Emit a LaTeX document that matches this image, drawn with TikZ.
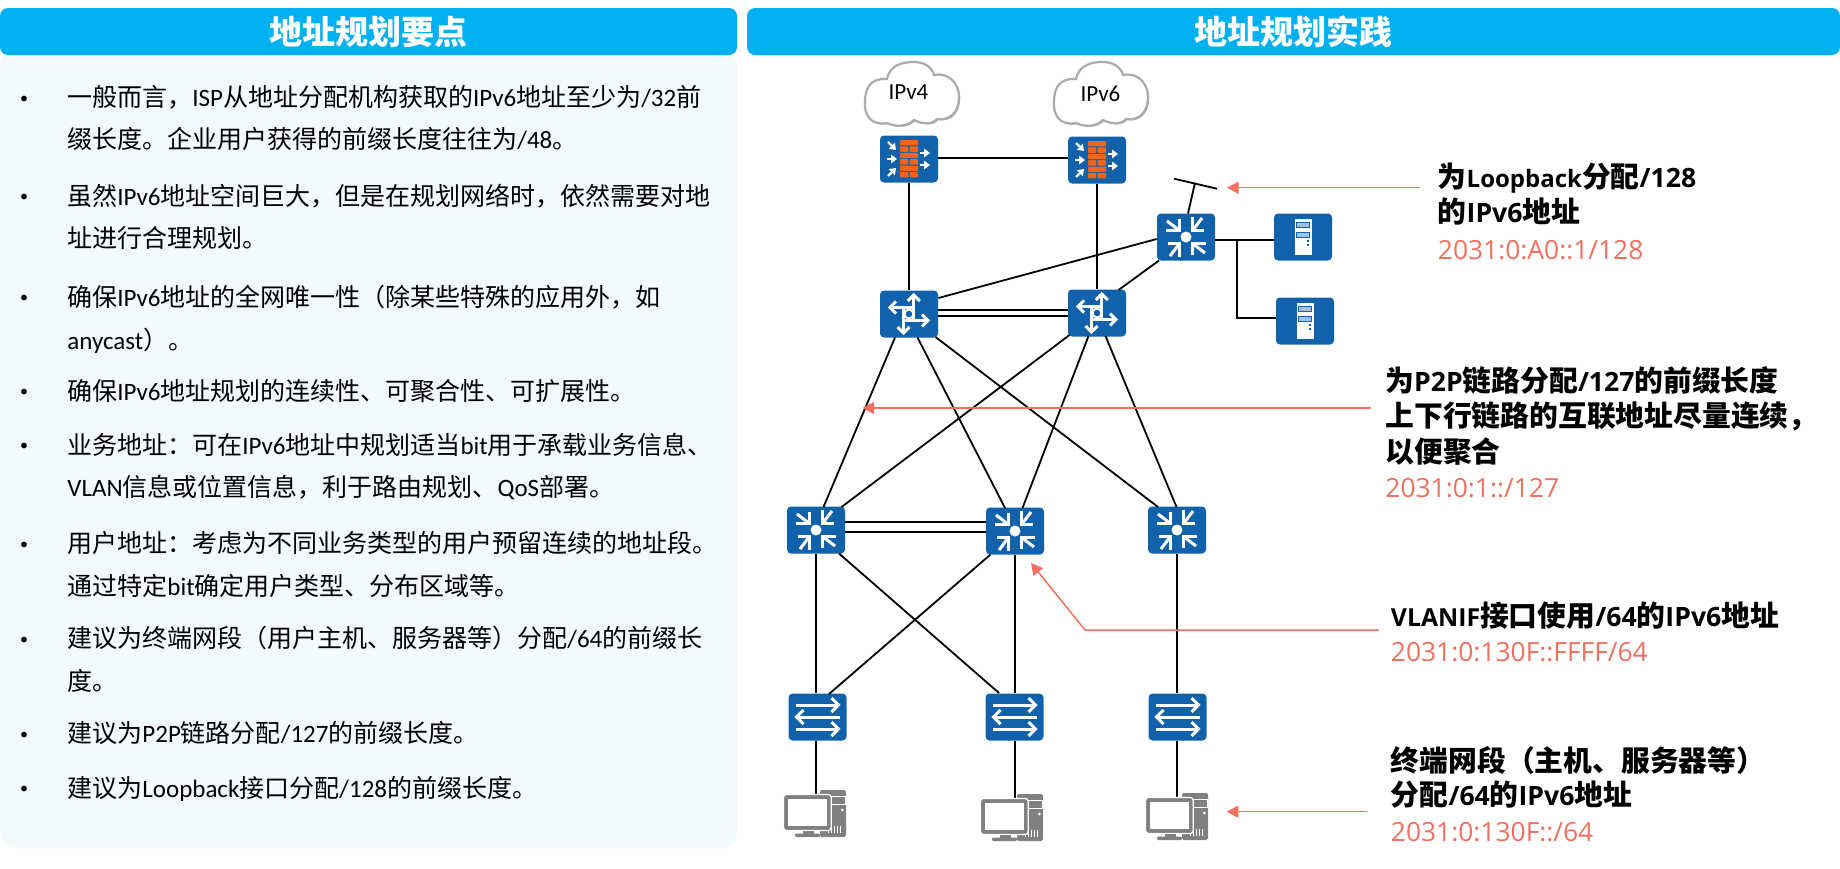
\documentclass[tikz,border=0pt]{standalone}
\usepackage{fontspec}
\usetikzlibrary{arrows.meta,calc}
\setmainfont{Noto Sans CJK SC}
\newfontfamily\lat{Carlito}
\newfontfamily\latw{Open Sans}
\newcommand{\La}[1]{{\lat #1}}
\newcommand{\Lb}[2][13.3]{{\latw\fontsize{#1}{16}\selectfont #2}}
\definecolor{headblue}{HTML}{00B0F0}
\definecolor{panelblue}{HTML}{F2FAFE}
\definecolor{devblue}{HTML}{1262AB}
\definecolor{brick}{HTML}{F0651C}
\definecolor{noteRed}{HTML}{F0705F}
\definecolor{pcgray}{HTML}{808080}
\definecolor{cloudgray}{HTML}{ABABAB}
\definecolor{slotblue}{HTML}{9CC3E6}
\tikzset{
  x=0.5pt,y=-0.5pt,
  header/.style={fill=headblue,draw=none,rounded corners=4pt,inner sep=0},
  headtxt/.style={text=white,font=\fontsize{16.5}{18}\selectfont\bfseries,inner sep=0},
  body/.style={anchor=west,inner sep=0,text height=10pt,text depth=3pt,font=\fontsize{12.5}{14}\selectfont},
  bul/.style={inner sep=0,font=\fontsize{8}{10}\selectfont\lat},
  note/.style={anchor=west,inner sep=0,text height=11pt,text depth=3pt,font=\fontsize{14.4}{16}\selectfont\bfseries},
  addr/.style={anchor=west,inner sep=0,text height=11pt,text depth=3pt,text=noteRed,font=\fontsize{13.2}{16}\selectfont\latw},
  dev/.style={fill=devblue,draw=none,rounded corners=2pt,minimum width=29pt,minimum height=23.5pt,inner sep=0},
  pcnode/.style={minimum width=31pt,minimum height=23.5pt,inner sep=0},
  cloudnode/.style={minimum width=47pt,minimum height=32pt,inner sep=0,font=\fontsize{11.5}{13}\selectfont\lat},
  link/.style={line width=0.9pt,draw=black},
  callout/.style={line width=0.75pt,draw=noteRed,-{Triangle[length=5.8pt,width=6pt,fill=noteRed]}},
  glyph/.style={draw=white,line width=1.5pt,line cap=butt,line join=miter},
}
\newcommand{\aggicon}[1]{%
  \begin{scope}[shift={(#1.center)}]
    \fill[white] (0,0) circle (5.5);
    \foreach \r in {0,90,180,270}{
      \begin{scope}[rotate=\r]
        \draw[glyph] (-6.5,-18) -- (-6.5,-6.5) -- (-20,-6.5);
        \draw[glyph] (-19,-16) -- (-6.5,-6.5);
      \end{scope}}
  \end{scope}}
\newcommand{\routericon}[1]{%
  \begin{scope}[shift={(#1.center)}]
    \draw[glyph] (-19,-6.5) -- (5,-6.5);
    \draw[glyph] (-13,-12.5) -- (-19,-6.5) -- (-13,-0.5);
    \draw[glyph] (-5.5,6.5) -- (19,6.5);
    \draw[glyph] (13,0.5) -- (19,6.5) -- (13,12.5);
    \draw[glyph] (4.8,-19) -- (4.8,7);
    \draw[glyph] (-1.2,-13) -- (4.8,-19) -- (10.8,-13);
    \draw[glyph] (-5.5,19) -- (-5.5,-7);
    \draw[glyph] (-11.5,13) -- (-5.5,19) -- (0.5,13);
    \draw[draw=white,fill=devblue,line width=1pt] (0,0) circle (4.5);
  \end{scope}}
\newcommand{\switchicon}[1]{%
  \begin{scope}[shift={(#1.center)}]
    \draw[glyph] (-22,-12) -- (21,-12);
    \draw[glyph] (14,-19) -- (21,-12) -- (14,-5);
    \draw[glyph] (22,0) -- (-21,0);
    \draw[glyph] (-14,-7) -- (-21,0) -- (-14,7);
    \draw[glyph] (-22,12) -- (21,12);
    \draw[glyph] (14,5) -- (21,12) -- (14,19);
  \end{scope}}
\newcommand{\fwicon}[1]{%
  \begin{scope}[shift={(#1.center)}]
    \foreach \yy in {-19,-6.2,6.6}{
      \fill[brick,rounded corners=0.4pt] (-9,\yy) rectangle (9,\yy+5.4);}
    \foreach \yy in {-12.6,0.2,13}{
      \fill[brick,rounded corners=0.4pt] (-9,\yy) rectangle (-0.7,\yy+5.4);
      \fill[brick,rounded corners=0.4pt] (0.7,\yy) rectangle (9,\yy+5.4);}
    \tikzset{fwa/.style={draw=white,line width=1.1pt,-{Triangle[length=3pt,width=4.2pt,fill=white]}}}
    \draw[fwa] (-21,-17) -- (-13,-9);
    \draw[fwa] (-22,0) -- (-12,0);
    \draw[fwa] (-21,17) -- (-13,9);
    \draw[fwa] (11,-6) -- (21,-6);
    \draw[fwa] (11,6) -- (21,6);
  \end{scope}}
\newcommand{\srvicon}[1]{%
  \begin{scope}[shift={(#1.center)}]
    \fill[white] (-8.5,-18) rectangle (8.5,18);
    \draw[draw=devblue,fill=slotblue,line width=0.5pt] (-6.5,-14.5) rectangle (6.5,-9.5);
    \draw[draw=devblue,fill=slotblue,line width=0.5pt] (-6.5,-5) rectangle (6.5,0);
    \fill[devblue] (3.5,3) rectangle (6,5);
    \fill[devblue] (3.5,6.5) rectangle (6,8.5);
  \end{scope}}
\newcommand{\pcicon}[1]{%
  \begin{scope}[shift={(#1.north west)}]
    \fill[pcgray,rounded corners=0.8pt] (36,0) rectangle (62,47);
    \draw[white,line width=0.5pt,fill=pcgray] (47.5,6.5) rectangle (61,14);
    \fill[white] (58.3,20) circle (1.5);
    \foreach \xx in {44,47,50,53,56}{\fill[white] (\xx,36) rectangle (\xx+1.1,43);}
    \draw[white,line width=0.6pt,fill=pcgray,rounded corners=1.5pt] (-0.5,4.5) rectangle (47.2,40.5);
    \fill[white] (4.3,8.5) rectangle (42.7,36);
    \fill[pcgray] (19,40.5) rectangle (30,43.5);
    \fill[pcgray,rounded corners=0.6pt] (11,43.5) rectangle (36,47);
  \end{scope}}
\newcommand{\cloudpath}{(-25,29) .. controls (-42,32) and (-48,20) .. (-47,8)
  .. controls (-47,-8) and (-40,-16) .. (-25,-15)
  .. controls (-22,-30) and (-8,-32) .. (2,-32)
  .. controls (12,-32) and (20,-27) .. (22,-19)
  .. controls (35,-22) and (47,-12) .. (47,3)
  .. controls (47,18) and (38,27) .. (25,25)
  .. controls (20,31) and (10,30) .. (2,26)
  .. controls (-5,33) and (-17,33) .. (-25,29) -- cycle}
\newcommand{\cloudicon}[1]{%
  \begin{scope}[shift={(#1.center)}]
    \fill[cloudgray,shift={(1.2,1.2)}] \cloudpath;
    \draw[cloudgray,fill=white,line width=1.1pt] \cloudpath;
  \end{scope}}
\begin{document}
\begin{tikzpicture}
\useasboundingbox (0,0) rectangle (1840,868);
% panels
\fill[panelblue,rounded corners=8pt] (0,50) rectangle (737,848);
\node[header,minimum width=368.5pt,minimum height=23.5pt] (hl) at (368.5,31.5) {};
\node[header,minimum width=546.5pt,minimum height=23.5pt] (hr) at (1293.5,31.5) {};
\node[headtxt] (tl) at (368,32) {地址规划要点};
\node[headtxt] (tr) at (1293,32) {地址规划实践};
% left text
\foreach \yy/\nm in {99.5/a,198/b,299/c,393/d,447/e,545.5/f,640.5/g,735.5/h,790/i}{
  \node[bul] (bul\nm) at (24,\yy) {•};}
\node[body] (t1) at (67,99.5) {一般而言，\La{ISP}从地址分配机构获取的\La{IPv6}地址至少为\La{/32}前};
\node[body] (t2) at (67,141) {缀长度。企业用户获得的前缀长度往往为\La{/48}。};
\node[body] (t3) at (67,198) {虽然\La{IPv6}地址空间巨大，但是在规划网络时，依然需要对地};
\node[body] (t4) at (67,240.5) {址进行合理规划。};
\node[body] (t5) at (67,299) {确保\La{IPv6}地址的全网唯一性（除某些特殊的应用外，如};
\node[body] (t6) at (67,342.5) {\La{anycast}）。};
\node[body] (t7) at (67,393) {确保\La{IPv6}地址规划的连续性、可聚合性、可扩展性。};
\node[body] (t8) at (67,447) {业务地址：可在\La{IPv6}地址中规划适当\La{bit}用于承载业务信息、};
\node[body] (t9) at (67,489) {\La{VLAN}信息或位置信息，利于路由规划、\La{QoS}部署。};
\node[body] (t10) at (67,545.5) {用户地址：考虑为不同业务类型的用户预留连续的地址段。};
\node[body] (t11) at (67,588) {通过特定\La{bit}确定用户类型、分布区域等。};
\node[body] (t12) at (67,640.5) {建议为终端网段（用户主机、服务器等）分配\La{/64}的前缀长};
\node[body] (t13) at (67,683) {度。};
\node[body] (t14) at (67,735.5) {建议为\La{P2P}链路分配\La{/127}的前缀长度。};
\node[body] (t15) at (67,790) {建议为\La{Loopback}接口分配\La{/128}的前缀长度。};
% devices (positions)
\node[cloudnode] (c4) at (912,94) {};
\node[cloudnode] (c6) at (1101,94) {};
\node[dev] (fw1) at (909,159) {};
\node[dev] (fw2) at (1097,160) {};
\node[dev] (core) at (1186,237) {};
\node[dev] (s1) at (1303,237) {};
\node[dev] (s2) at (1305,321) {};
\node[dev] (ra) at (909,314) {};
\node[dev] (rb) at (1097,313) {};
\node[dev] (ag1) at (816,530) {};
\node[dev] (ag2) at (1015,531) {};
\node[dev] (ag3) at (1177,530) {};
\node[dev] (sw1) at (817.5,717) {};
\node[dev] (sw2) at (1014.5,717) {};
\node[dev] (sw3) at (1177.5,717) {};
\node[pcnode,anchor=north west] (p1) at (784,790) {};
\node[pcnode,anchor=north west] (p2) at (981,794) {};
\node[pcnode,anchor=north west] (p3) at (1146,793) {};
% connectors
\draw[link] (fw1.east |- 0,157.7) -- (fw2.west |- 0,157.7);
\draw[link] (fw1.south) -- (ra.north);
\draw[link] (fw2.south) -- (rb.north);
\draw[link] (core.west |- 0,239) -- ([shift={(0,-16)}]ra.east);
\draw[link] ([shift={(-27,23.5)}]core.center) -- ([shift={(21.5,-23)}]rb.center);
\draw[link] (core.east |- 0,240) -- (s1.west |- 0,240);
\coordinate (branch) at (1237,240);
\draw[link] (branch) |- (s2.west |- 0,317.7);
\coordinate (lbT) at (1195,182.7);
\draw[link] ([shift={(2,-23.5)}]core.center) -- (lbT);
\coordinate (lbL) at (1174,178.7);
\coordinate (lbR) at (1217,188.7);
\draw[link] (lbL) -- (lbR);
\draw[link] (ra.east |- 0,309.7) -- (rb.west |- 0,309.7);
\draw[link] (ra.east |- 0,316) -- (rb.west |- 0,316);
\draw[link] ([shift={(-14,23.5)}]ra.center) -- ([shift={(7.5,-23)}]ag1.center);
\draw[link] ([shift={(8.5,23.5)}]ra.center) -- ([shift={(-10,-23)}]ag2.center);
\draw[link] ([shift={(26.5,23)}]ra.center) -- ([shift={(-19,-23)}]ag3.center);
\draw[link] ([shift={(-27.5,22)}]rb.center) -- ([shift={(25.5,-23)}]ag1.center);
\draw[link] ([shift={(-8.5,23)}]rb.center) -- ([shift={(7.5,-23)}]ag2.center);
\draw[link] ([shift={(8.5,23)}]rb.center) -- ([shift={(-0.5,-23)}]ag3.center);
\draw[link] (ag1.east |- 0,522) -- (ag2.west |- 0,522);
\draw[link] (ag1.east |- 0,532) -- (ag2.west |- 0,532);
\draw[link] (ag1.south) -- (ag1.south |- sw1.north);
\draw[link] ([shift={(23,23.5)}]ag1.center) -- ([shift={(-15.5,-24)}]sw2.center);
\draw[link] ([shift={(-24.5,23.5)}]ag2.center) -- ([shift={(11.5,-23)}]sw1.center);
\draw[link] (ag2.south) -- (ag2.south |- sw2.north);
\draw[link] (ag3.south) -- (ag3.south |- sw3.north);
\draw[link] (ag1.south |- sw1.south) -- (ag1.south |- 0,795);
\draw[link] (ag2.south |- sw2.south) -- (ag2.south |- 0,799);
\draw[link] (ag3.south |- sw3.south) -- (ag3.south |- 0,798);
% icons
\cloudicon{c4}\cloudicon{c6}
\node[cloudnode] (c4t) at (908.5,92) {IPv4};
\node[cloudnode] (c6t) at (1100.5,94) {IPv6};
\fwicon{fw1}\fwicon{fw2}
\aggicon{core}\aggicon{ag1}\aggicon{ag2}\aggicon{ag3}
\routericon{ra}\routericon{rb}
\srvicon{s1}\srvicon{s2}
\switchicon{sw1}\switchicon{sw2}\switchicon{sw3}
\pcicon{p1}\pcicon{p2}\pcicon{p3}
% notes
\node[note] (n1) at (1437.5,179.5) {为\Lb[12]{Loopback}分配\Lb{/128}};
\node[note] (n1b) at (1437.5,214.5) {的\Lb{IPv6}地址};
\node[addr] (n1c) at (1437.5,251) {2031:0:A0::1/128};
\node[note] (n2) at (1385,383.5) {为\Lb{P2P}链路分配\Lb{/127}的前缀长度};
\node[note] (n2b) at (1385,418) {上下行链路的互联地址尽量连续，};
\node[note] (n2c) at (1385,454) {以便聚合};
\node[addr] (n2d) at (1385,489) {2031:0:1::/127};
\node[note] (n3) at (1390.5,618) {\Lb[12.4]{VLANIF}接口使用\Lb{/64}的\Lb{IPv6}地址};
\node[addr] (n3b) at (1390.5,653.5) {2031:0:130F::FFFF/64};
\node[note] (n4) at (1390.5,763) {终端网段（主机、服务器等）};
\node[note] (n4b) at (1390.5,797) {分配\Lb{/64}的\Lb{IPv6}地址};
\node[addr] (n4c) at (1390.5,833) {2031:0:130F::/64};
% callouts
\coordinate (k1a) at (1420,187.7); \coordinate (k1b) at (1227,187.7);
\draw[callout] (k1a) -- (k1b);
\coordinate (k2a) at (1371,408); \coordinate (k2b) at (862.5,408);
\draw[callout] (k2a) -- (k2b);
\coordinate (k3a) at (1379,630); \coordinate (k3m) at (1085,630); \coordinate (k3b) at (1031,563);
\draw[callout] (k3a) -- (k3m) -- (k3b);
\coordinate (k4a) at (1367,811.7); \coordinate (k4b) at (1226.7,811.7);
\draw[callout] (k4a) -- (k4b);
\end{tikzpicture}
\end{document}
